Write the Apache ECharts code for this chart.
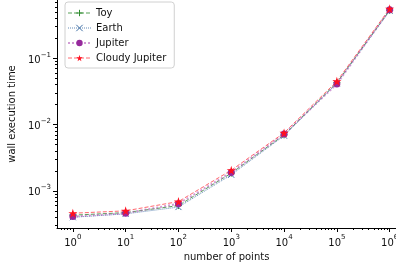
<!DOCTYPE html>
<html>
<head>
  <meta charset="utf-8">
  <title>wall execution time</title>
  <script src="https://cdn.jsdelivr.net/npm/echarts@6/dist/echarts.min.js"></script>
  <style>
    html, body { margin: 0; padding: 0; background: #fff; }
    #chart { width: 396px; height: 266px; }
  </style>
</head>
<body>
<div id="chart"></div>
<script>
// number of points (x) and wall execution time per model (y)
var points  = [1, 10, 100, 1000, 10000, 100000, 1000000];
var toy     = [4.3e-4, 4.7e-4, 6.0e-4, 1.85e-3, 7.0e-3, 0.043, 0.53];
var earth   = [4.0e-4, 4.5e-4, 5.7e-4, 1.75e-3, 6.8e-3, 0.042, 0.52];
var jupiter = [4.1e-4, 4.6e-4, 6.4e-4, 1.90e-3, 7.2e-3, 0.041, 0.54];
var cloudy  = [4.6e-4, 5.0e-4, 6.9e-4, 2.05e-3, 7.5e-3, 0.045, 0.56];
var names   = ['Toy', 'Earth', 'Jupiter', 'Cloudy Jupiter'];

var xMajor = [1, 10, 100, 1000, 10000, 100000, 1000000];
var yMajor = [0.001, 0.01, 0.1];

function minorTicks(fromExp, toExp) {
  var out = [];
  for (var e = fromExp; e <= toExp; e++) {
    for (var m = 2; m <= 9; m++) out.push(m * Math.pow(10, e));
  }
  return out;
}

function pair(ys) {
  return points.map(function (x, i) { return [x, ys[i]]; });
}

function supLabel(v) {
  var e = Math.round(Math.log10(v));
  return '{b|10}{s|' + String(e).replace('-', '\u2212') + '}';
}
var rich = {
  b: { fontSize: 10, color: '#111', fontFamily: 'DejaVu Sans', lineHeight: 14, verticalAlign: 'bottom' },
  s: { fontSize: 7, color: '#111', fontFamily: 'DejaVu Sans', lineHeight: 14, verticalAlign: 'top' }
};

// matplotlib-like margins; the figure is cut on the right just after 10^6
var xMin = Math.pow(10, -0.3), xMax = Math.pow(10, 6.12);
var yMin = Math.pow(10, -3.56), yMax = Math.pow(10, -0.12);
var grid = { left: 57, right: 0, top: 0, bottom: 38, outerBoundsMode: 'none', containLabel: false };

var chart = echarts.init(document.getElementById('chart'), null, { renderer: 'canvas' });

var starPath = 'path://M50,0 L61,35 L98,35 L68,57 L79,91 L50,70 L21,91 L32,57 L2,35 L39,35 Z';
var plusPath = 'path://M5,0 L5,10 M0,5 L10,5';
var crossPath = 'path://M0,0 L10,10 M10,0 L0,10';

var styles = [
  { color: '#2e8b2e', line: 'rgba(46,139,46,0.8)', symbol: plusPath, size: 7, type: 'dashed', width: 1, stroke: true },
  { color: '#3f6fa5', line: 'rgba(63,111,165,0.8)', symbol: crossPath, size: 6, type: 'dotted', width: 1, stroke: true },
  { color: '#962a9c', line: 'rgba(180,90,185,0.6)', symbol: 'circle', size: 7, type: 'dotted', width: 2, stroke: false },
  { color: '#ff1020', line: 'rgba(255,40,50,0.7)', symbol: starPath, size: 9, type: 'dashed', width: 1, stroke: false }
];

function series(name, ys, s) {
  return {
    name: name,
    type: 'line',
    data: pair(ys),
    symbol: s.symbol,
    symbolSize: s.size,
    showAllSymbol: true,
    lineStyle: { color: s.line, width: s.width, type: s.type },
    itemStyle: s.stroke
      ? { color: 'transparent', borderColor: s.color, borderWidth: 1 }
      : { color: s.color, borderWidth: 0 },
    emphasis: { disabled: true },
    z: 3
  };
}

chart.setOption({
  animation: false,
  textStyle: { fontFamily: 'DejaVu Sans' },
  grid: [grid, grid],
  legend: {
    orient: 'vertical',
    left: 65,
    top: 2,
    data: names.map(function (n, i) {
      var s = styles[i];
      return {
        name: n,
        lineStyle: { color: s.line, width: s.width, type: s.type },
        itemStyle: s.stroke
          ? { color: 'transparent', borderColor: s.color, borderWidth: 1 }
          : { color: s.color, borderWidth: 0 }
      };
    }),
    itemWidth: 23,
    itemHeight: 8,
    itemGap: 3,
    padding: [5, 8, 4, 2],
    backgroundColor: 'rgba(255,255,255,0.85)',
    borderColor: '#d0d0d0',
    borderWidth: 1,
    borderRadius: 3,
    textStyle: { fontSize: 10, color: '#111', fontFamily: 'DejaVu Sans', lineHeight: 12 }
  },
  xAxis: [{
    type: 'log',
    gridIndex: 0,
    min: xMin,
    max: xMax,
    name: 'number of points',
    nameLocation: 'middle',
    nameGap: 19,
    nameTextStyle: { fontSize: 10, color: '#111' },
    axisLine: { lineStyle: { color: '#000', width: 1 } },
    axisTick: { length: 4, lineStyle: { color: '#000' }, customValues: xMajor },
    axisLabel: { margin: 6, customValues: xMajor, formatter: supLabel, rich: rich },
    splitLine: { show: false },
    minorTick: { show: false }
  }, {
    type: 'log',
    gridIndex: 1,
    min: xMin,
    max: xMax,
    axisLine: { show: false },
    axisTick: { length: 2, lineStyle: { color: '#000' }, customValues: minorTicks(-1, 5) },
    axisLabel: { show: false },
    splitLine: { show: false }
  }],
  yAxis: [{
    type: 'log',
    gridIndex: 0,
    min: yMin,
    max: yMax,
    name: 'wall execution time',
    nameLocation: 'middle',
    nameGap: 38,
    nameTextStyle: { fontSize: 10, color: '#111' },
    axisLine: { lineStyle: { color: '#000', width: 1 } },
    axisTick: { length: 4, lineStyle: { color: '#000' }, customValues: yMajor },
    axisLabel: { margin: 6, customValues: yMajor, formatter: supLabel, rich: rich },
    splitLine: { show: false },
    minorTick: { show: false }
  }, {
    type: 'log',
    gridIndex: 1,
    min: yMin,
    max: yMax,
    axisLine: { show: false },
    axisTick: { length: 2, lineStyle: { color: '#000' }, customValues: minorTicks(-4, -1) },
    axisLabel: { show: false },
    splitLine: { show: false }
  }],
  series: [
    series(names[0], toy, styles[0]),
    series(names[1], earth, styles[1]),
    series(names[2], jupiter, styles[2]),
    series(names[3], cloudy, styles[3])
  ]
});
</script>
</body>
</html>
